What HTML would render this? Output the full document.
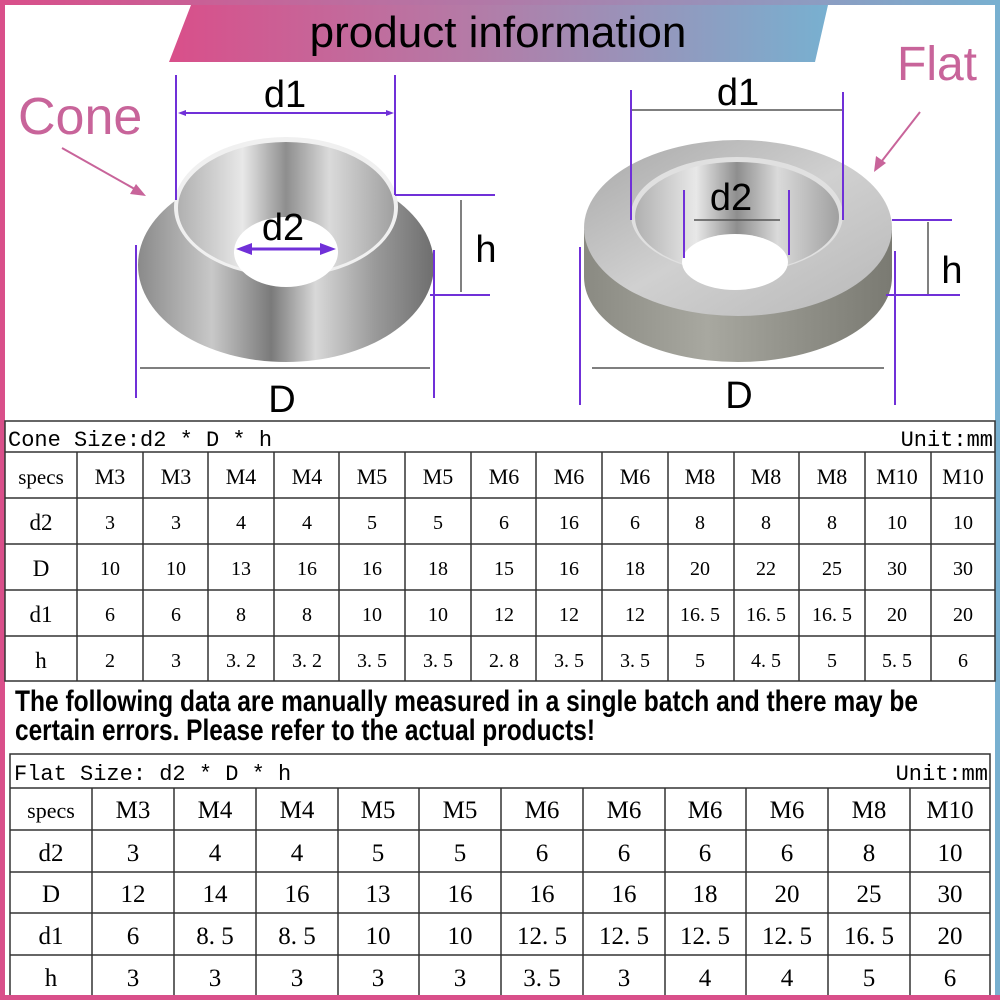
<!DOCTYPE html>
<html><head><meta charset="utf-8"><style>
html,body{margin:0;padding:0;width:1000px;height:1000px;overflow:hidden;background:#fff}
svg{display:block}
</style></head><body>
<svg width="1000" height="1000" viewBox="0 0 1000 1000" xmlns="http://www.w3.org/2000/svg">
<defs>
<linearGradient id="fr" x1="0" x2="1" y1="0" y2="0">
<stop offset="0" stop-color="#d94f8a"/><stop offset="0.5" stop-color="#b07aa8"/><stop offset="1" stop-color="#78b0d0"/></linearGradient>
<linearGradient id="bn" x1="0" x2="1" y1="0" y2="0">
<stop offset="0" stop-color="#d94f8a"/><stop offset="0.45" stop-color="#b57aa6"/><stop offset="1" stop-color="#78b0d0"/></linearGradient>
<linearGradient id="met" x1="0" x2="1" y1="0" y2="0">
<stop offset="0" stop-color="#8a8a8a"/><stop offset="0.25" stop-color="#c8c8c8"/><stop offset="0.45" stop-color="#7a7a7a"/><stop offset="0.6" stop-color="#d8d8d8"/><stop offset="0.8" stop-color="#9a9a9a"/><stop offset="1" stop-color="#6e6e6e"/></linearGradient>
<linearGradient id="met2" x1="0" x2="1" y1="0" y2="0">
<stop offset="0" stop-color="#b0b0b0"/><stop offset="0.3" stop-color="#e8e8e8"/><stop offset="0.5" stop-color="#8e8e8e"/><stop offset="0.7" stop-color="#dadada"/><stop offset="1" stop-color="#a0a0a0"/></linearGradient>
<linearGradient id="top" x1="0" x2="1" y1="0" y2="1">
<stop offset="0" stop-color="#a8a8a8"/><stop offset="0.5" stop-color="#d0d0d0"/><stop offset="1" stop-color="#b8b8b8"/></linearGradient>
<linearGradient id="side" x1="0" x2="1" y1="0" y2="0">
<stop offset="0" stop-color="#8a8a82"/><stop offset="0.4" stop-color="#a8a8a0"/><stop offset="0.7" stop-color="#909088"/><stop offset="1" stop-color="#7a7a72"/></linearGradient>
</defs>
<rect x="0" y="0" width="1000" height="5" fill="url(#fr)"/>
<rect x="0" y="0" width="5" height="1000" fill="#d94f8a"/>
<rect x="995" y="0" width="5" height="1000" fill="#78b0d0"/>
<polygon points="191,5 828,5 815,62 169,62" fill="url(#bn)"/>
<text x="498" y="47" font-family="Liberation Sans, sans-serif" font-size="44" text-anchor="middle" fill="#000">product information</text>
<text x="18" y="134" font-family="Liberation Sans, sans-serif" font-size="52" fill="#c8649a">Cone</text>
<text x="897" y="80" font-family="Liberation Sans, sans-serif" font-size="48" fill="#c8649a">Flat</text>
<line x1="62" y1="148" x2="140" y2="192" stroke="#c8649a" stroke-width="2"/>
<polygon points="146,196 130,194 136,184" fill="#c8649a"/>
<line x1="920" y1="112" x2="878" y2="166" stroke="#c8649a" stroke-width="2"/>
<polygon points="874,172 876,156 886,163" fill="#c8649a"/>

<ellipse cx="286" cy="265" rx="148" ry="97" fill="url(#met)"/>
<ellipse cx="286" cy="207" rx="112" ry="70" fill="#f0f0f0"/>
<ellipse cx="286" cy="208" rx="108" ry="66" fill="url(#met2)"/>
<ellipse cx="286" cy="252" rx="52" ry="35" fill="#fff"/>
<path d="M584,230 L584,277 A154,85 0 0 0 892,277 L892,230 Z" fill="url(#side)"/>
<ellipse cx="738" cy="228" rx="154" ry="88" fill="url(#top)"/>
<ellipse cx="737" cy="215" rx="106" ry="58" fill="#e0e0e0"/>
<ellipse cx="737" cy="217" rx="102" ry="55" fill="url(#met2)"/>
<ellipse cx="735" cy="262" rx="53" ry="28" fill="#fff"/>

<g stroke="#7030d8" stroke-width="2">
<line x1="176" y1="75" x2="176" y2="200"/><line x1="395" y1="75" x2="395" y2="195"/>
<line x1="395" y1="195" x2="495" y2="195"/><line x1="430" y1="295" x2="490" y2="295"/>
<line x1="136" y1="245" x2="136" y2="398"/><line x1="434" y1="250" x2="434" y2="398"/>
<line x1="182" y1="113" x2="390" y2="113"/>
<line x1="246" y1="249" x2="326" y2="249" stroke-width="3"/>
</g>
<polygon points="236,249 252,243 252,255" fill="#7030d8"/><polygon points="336,249 320,243 320,255" fill="#7030d8"/>
<polygon points="178,113 186,110 186,116" fill="#7030d8"/><polygon points="394,113 386,110 386,116" fill="#7030d8"/>
<g stroke="#555" stroke-width="1.5">
<line x1="461" y1="200" x2="461" y2="292"/><line x1="140" y1="368" x2="430" y2="368"/>
<line x1="632" y1="110" x2="842" y2="110"/><line x1="694" y1="220" x2="780" y2="220"/>
<line x1="928" y1="222" x2="928" y2="294"/><line x1="592" y1="368" x2="884" y2="368"/>
</g>
<g stroke="#7030d8" stroke-width="2">
<line x1="631" y1="90" x2="631" y2="220"/><line x1="843" y1="92" x2="843" y2="220"/>
<line x1="684" y1="190" x2="684" y2="258"/><line x1="789" y1="190" x2="789" y2="255"/>
<line x1="892" y1="220" x2="952" y2="220"/><line x1="886" y1="295" x2="960" y2="295"/>
<line x1="580" y1="247" x2="580" y2="405"/><line x1="895" y1="251" x2="895" y2="405"/>
</g>
<g font-family="Liberation Sans, sans-serif" font-size="38" fill="#000" text-anchor="middle">
<text x="285" y="107">d1</text><text x="283" y="240">d2</text><text x="486" y="262">h</text><text x="282" y="412">D</text>
<text x="738" y="105">d1</text><text x="731" y="210">d2</text><text x="952" y="283">h</text><text x="739" y="408">D</text>
</g>

<g stroke="#333" stroke-width="1.5" fill="none">
<rect x="5" y="421" width="990" height="260"/>
<line x1="5" y1="452" x2="995" y2="452"/><line x1="5" y1="498" x2="995" y2="498"/>
<line x1="5" y1="544" x2="995" y2="544"/><line x1="5" y1="590" x2="995" y2="590"/>
<line x1="5" y1="636" x2="995" y2="636"/>
<line x1="77" y1="452" x2="77" y2="681"/><line x1="143" y1="452" x2="143" y2="681"/><line x1="208" y1="452" x2="208" y2="681"/><line x1="274" y1="452" x2="274" y2="681"/><line x1="339" y1="452" x2="339" y2="681"/><line x1="405" y1="452" x2="405" y2="681"/><line x1="471" y1="452" x2="471" y2="681"/><line x1="536" y1="452" x2="536" y2="681"/><line x1="602" y1="452" x2="602" y2="681"/><line x1="668" y1="452" x2="668" y2="681"/><line x1="734" y1="452" x2="734" y2="681"/><line x1="799" y1="452" x2="799" y2="681"/><line x1="865" y1="452" x2="865" y2="681"/><line x1="931" y1="452" x2="931" y2="681"/>
</g>
<text x="8" y="446" font-family="Liberation Mono, monospace" font-size="22" fill="#000">Cone Size:d2 * D * h</text>
<text x="993" y="446" font-family="Liberation Mono, monospace" font-size="22" fill="#000" text-anchor="end">Unit:mm</text>
<g font-family="Liberation Serif, serif" font-size="20" fill="#000" text-anchor="middle">
<text x="41" y="484" font-size="21">specs</text><text x="41" y="530" font-size="23">d2</text><text x="41" y="576" font-size="23">D</text><text x="41" y="622" font-size="23">d1</text><text x="41" y="668" font-size="23">h</text>
<g font-size="22"><text x="110" y="484">M3</text><text x="176" y="484">M3</text><text x="241" y="484">M4</text><text x="307" y="484">M4</text><text x="372" y="484">M5</text><text x="438" y="484">M5</text><text x="504" y="484">M6</text><text x="569" y="484">M6</text><text x="635" y="484">M6</text><text x="700" y="484">M8</text><text x="766" y="484">M8</text><text x="832" y="484">M8</text><text x="897" y="484">M10</text><text x="963" y="484">M10</text></g>
<text x="110" y="529">3</text><text x="176" y="529">3</text><text x="241" y="529">4</text><text x="307" y="529">4</text><text x="372" y="529">5</text><text x="438" y="529">5</text><text x="504" y="529">6</text><text x="569" y="529">16</text><text x="635" y="529">6</text><text x="700" y="529">8</text><text x="766" y="529">8</text><text x="832" y="529">8</text><text x="897" y="529">10</text><text x="963" y="529">10</text>
<text x="110" y="575">10</text><text x="176" y="575">10</text><text x="241" y="575">13</text><text x="307" y="575">16</text><text x="372" y="575">16</text><text x="438" y="575">18</text><text x="504" y="575">15</text><text x="569" y="575">16</text><text x="635" y="575">18</text><text x="700" y="575">20</text><text x="766" y="575">22</text><text x="832" y="575">25</text><text x="897" y="575">30</text><text x="963" y="575">30</text>
<text x="110" y="621">6</text><text x="176" y="621">6</text><text x="241" y="621">8</text><text x="307" y="621">8</text><text x="372" y="621">10</text><text x="438" y="621">10</text><text x="504" y="621">12</text><text x="569" y="621">12</text><text x="635" y="621">12</text><text x="700" y="621">16. 5</text><text x="766" y="621">16. 5</text><text x="832" y="621">16. 5</text><text x="897" y="621">20</text><text x="963" y="621">20</text>
<text x="110" y="667">2</text><text x="176" y="667">3</text><text x="241" y="667">3. 2</text><text x="307" y="667">3. 2</text><text x="372" y="667">3. 5</text><text x="438" y="667">3. 5</text><text x="504" y="667">2. 8</text><text x="569" y="667">3. 5</text><text x="635" y="667">3. 5</text><text x="700" y="667">5</text><text x="766" y="667">4. 5</text><text x="832" y="667">5</text><text x="897" y="667">5. 5</text><text x="963" y="667">6</text>
</g>

<g font-family="Liberation Sans, sans-serif" font-weight="bold" font-size="30" fill="#000">
<text x="15" y="711" textLength="903" lengthAdjust="spacingAndGlyphs">The following data are manually measured in a single batch and there may be</text>
<text x="15" y="740" textLength="580" lengthAdjust="spacingAndGlyphs">certain errors. Please refer to the actual products!</text>
</g>

<g stroke="#333" stroke-width="1.5" fill="none">
<rect x="10" y="754" width="980" height="245"/>
<line x1="10" y1="788" x2="990" y2="788"/><line x1="10" y1="830" x2="990" y2="830"/>
<line x1="10" y1="872" x2="990" y2="872"/><line x1="10" y1="913" x2="990" y2="913"/>
<line x1="10" y1="955" x2="990" y2="955"/>
<line x1="92" y1="788" x2="92" y2="999"/><line x1="174" y1="788" x2="174" y2="999"/><line x1="256" y1="788" x2="256" y2="999"/><line x1="338" y1="788" x2="338" y2="999"/><line x1="419" y1="788" x2="419" y2="999"/><line x1="501" y1="788" x2="501" y2="999"/><line x1="583" y1="788" x2="583" y2="999"/><line x1="665" y1="788" x2="665" y2="999"/><line x1="746" y1="788" x2="746" y2="999"/><line x1="828" y1="788" x2="828" y2="999"/><line x1="910" y1="788" x2="910" y2="999"/>
</g>
<text x="14" y="780" font-family="Liberation Mono, monospace" font-size="22" fill="#000">Flat Size: d2 * D * h</text>
<text x="988" y="780" font-family="Liberation Mono, monospace" font-size="22" fill="#000" text-anchor="end">Unit:mm</text>
<g font-family="Liberation Serif, serif" font-size="25" fill="#000" text-anchor="middle">
<text x="51" y="818" font-size="22">specs</text><text x="51" y="861">d2</text><text x="51" y="902">D</text><text x="51" y="944">d1</text><text x="51" y="986">h</text>
<text x="133" y="818">M3</text><text x="215" y="818">M4</text><text x="297" y="818">M4</text><text x="378" y="818">M5</text><text x="460" y="818">M5</text><text x="542" y="818">M6</text><text x="624" y="818">M6</text><text x="705" y="818">M6</text><text x="787" y="818">M6</text><text x="869" y="818">M8</text><text x="950" y="818">M10</text>
<text x="133" y="861">3</text><text x="215" y="861">4</text><text x="297" y="861">4</text><text x="378" y="861">5</text><text x="460" y="861">5</text><text x="542" y="861">6</text><text x="624" y="861">6</text><text x="705" y="861">6</text><text x="787" y="861">6</text><text x="869" y="861">8</text><text x="950" y="861">10</text>
<text x="133" y="902">12</text><text x="215" y="902">14</text><text x="297" y="902">16</text><text x="378" y="902">13</text><text x="460" y="902">16</text><text x="542" y="902">16</text><text x="624" y="902">16</text><text x="705" y="902">18</text><text x="787" y="902">20</text><text x="869" y="902">25</text><text x="950" y="902">30</text>
<text x="133" y="944">6</text><text x="215" y="944">8. 5</text><text x="297" y="944">8. 5</text><text x="378" y="944">10</text><text x="460" y="944">10</text><text x="542" y="944">12. 5</text><text x="624" y="944">12. 5</text><text x="705" y="944">12. 5</text><text x="787" y="944">12. 5</text><text x="869" y="944">16. 5</text><text x="950" y="944">20</text>
<text x="133" y="986">3</text><text x="215" y="986">3</text><text x="297" y="986">3</text><text x="378" y="986">3</text><text x="460" y="986">3</text><text x="542" y="986">3. 5</text><text x="624" y="986">3</text><text x="705" y="986">4</text><text x="787" y="986">4</text><text x="869" y="986">5</text><text x="950" y="986">6</text>
</g>
<rect x="0" y="995" width="1000" height="5" fill="#d94f8a"/>
</svg>
</body></html>
